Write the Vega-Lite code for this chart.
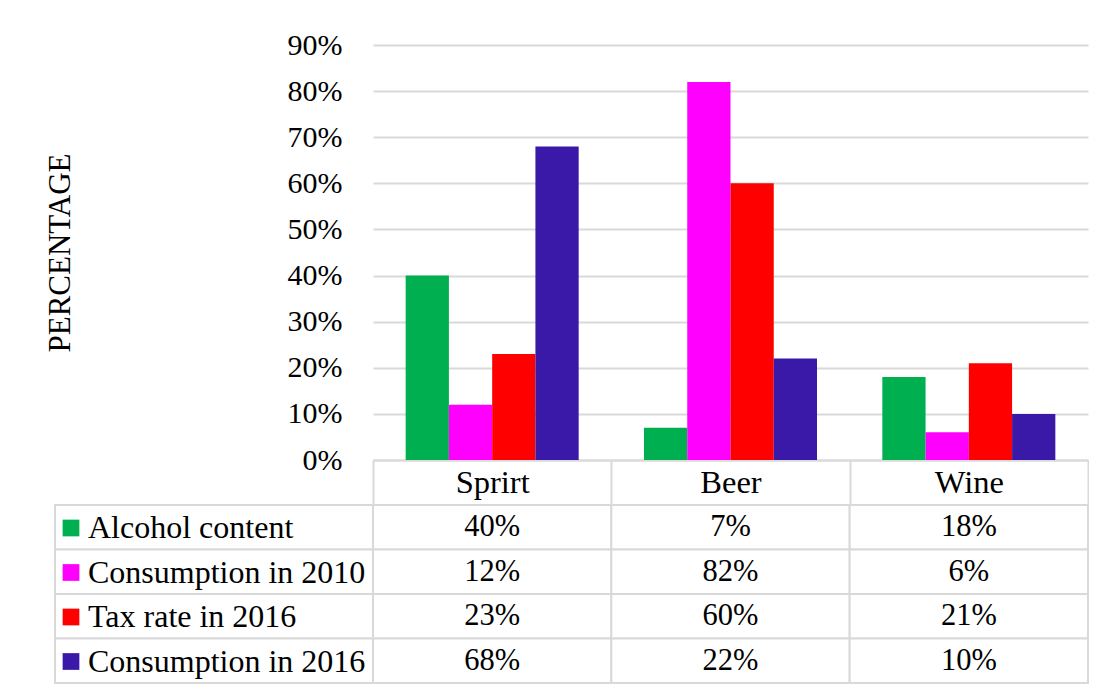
{
  "$schema": "https://vega.github.io/schema/vega-lite/v6.json",
  "padding": {"left": 44, "top": 30, "right": 0, "bottom": 0},
  "background": "white",
  "config": {
    "view": {"stroke": null},
    "font": "Liberation Serif",
    "axis": {"labelFont": "Liberation Serif", "titleFont": "Liberation Serif", "labelColor": "black", "titleColor": "black"},
    "legend": {"labelFont": "Liberation Serif", "labelColor": "black"}
  },
  "datasets": {
    "table": [
      {"drink": "Sprirt", "series": "Alcohol content", "value": 0.40},
      {"drink": "Sprirt", "series": "Consumption in 2010", "value": 0.12},
      {"drink": "Sprirt", "series": "Tax rate in 2016", "value": 0.23},
      {"drink": "Sprirt", "series": "Consumption in 2016", "value": 0.68},
      {"drink": "Beer", "series": "Alcohol content", "value": 0.07},
      {"drink": "Beer", "series": "Consumption in 2010", "value": 0.82},
      {"drink": "Beer", "series": "Tax rate in 2016", "value": 0.60},
      {"drink": "Beer", "series": "Consumption in 2016", "value": 0.22},
      {"drink": "Wine", "series": "Alcohol content", "value": 0.18},
      {"drink": "Wine", "series": "Consumption in 2010", "value": 0.06},
      {"drink": "Wine", "series": "Tax rate in 2016", "value": 0.21},
      {"drink": "Wine", "series": "Consumption in 2016", "value": 0.10}
    ],
    "series": [
      {"series": "Alcohol content"},
      {"series": "Consumption in 2010"},
      {"series": "Tax rate in 2016"},
      {"series": "Consumption in 2016"}
    ]
  },
  "columns": 2,
  "spacing": {"row": 45, "column": 0},
  "bounds": "flush",
  "resolve": {"legend": {"color": "independent"}},
  "concat": [
    {
      "width": 318,
      "height": 415,
      "data": {"values": [{"blank": ""}]},
      "mark": {"type": "text", "text": ""},
      "encoding": {}
    },
    {
      "width": 715,
      "height": 415,
      "data": {"name": "table"},
      "mark": {"type": "bar"},
      "encoding": {
        "x": {
          "field": "drink", "type": "nominal", "sort": ["Sprirt", "Beer", "Wine"],
          "scale": {"paddingInner": 0, "paddingOuter": 0},
          "axis": {
            "title": null, "orient": "bottom", "labelAngle": 0,
            "ticks": true, "tickBand": "extent", "tickSize": 45, "tickColor": "#d9d9d9", "tickWidth": 2,
            "domain": true, "domainColor": "#d9d9d9", "domainWidth": 2,
            "labelBaseline": "middle", "labelPadding": -22.5, "labelFontSize": 32.5
          }
        },
        "xOffset": {
          "field": "series", "type": "nominal",
          "sort": ["Alcohol content", "Consumption in 2010", "Tax rate in 2016", "Consumption in 2016"],
          "scale": {"paddingInner": 0, "paddingOuter": 0.755}
        },
        "y": {
          "field": "value", "type": "quantitative",
          "scale": {"domain": [0, 0.9], "nice": false},
          "axis": {
            "format": ".0%", "values": [0, 0.1, 0.2, 0.3, 0.4, 0.5, 0.6, 0.7, 0.8, 0.9],
            "grid": true, "gridColor": "#d9d9d9", "gridWidth": 2,
            "domain": false, "ticks": false, "labelPadding": 31, "labelFontSize": 30,
            "title": "PERCENTAGE", "titleFontWeight": "normal", "titleFontSize": 31, "titlePadding": 211
          }
        },
        "color": {
          "field": "series", "type": "nominal",
          "scale": {
            "domain": ["Alcohol content", "Consumption in 2010", "Tax rate in 2016", "Consumption in 2016"],
            "range": ["#00B050", "#FF00FF", "#FF0000", "#3A19A8"]
          },
          "legend": null
        }
      }
    },
    {
      "width": 318,
      "height": 178,
      "data": {"name": "series"},
      "layer": [
        {
          "mark": {"type": "rect", "fill": "white", "stroke": "#d9d9d9", "strokeWidth": 2},
          "encoding": {
            "y": {
              "field": "series", "type": "nominal",
              "sort": ["Alcohol content", "Consumption in 2010", "Tax rate in 2016", "Consumption in 2016"],
              "scale": {"paddingInner": 0, "paddingOuter": 0},
              "axis": null
            }
          }
        },
        {
          "mark": {"type": "point", "filled": true, "shape": "square", "size": 0},
          "encoding": {
            "color": {
              "field": "series", "type": "nominal",
              "legend": {
                "orient": "top-left", "offset": 7, "padding": 0, "title": null,
                "labelFontSize": 32, "labelLimit": 500, "labelOffset": 1,
                "rowPadding": 12.5, "symbolType": "square", "symbolSize": 280,
                "symbolOffset": -7, "symbolStrokeWidth": 0, "symbolOpacity": 1
              }
            }
          }
        }
      ]
    },
    {
      "width": 715,
      "height": 178,
      "data": {"name": "table"},
      "encoding": {
        "x": {
          "field": "drink", "type": "nominal", "sort": ["Sprirt", "Beer", "Wine"],
          "scale": {"paddingInner": 0, "paddingOuter": 0}, "axis": null
        },
        "y": {
          "field": "series", "type": "nominal",
          "sort": ["Alcohol content", "Consumption in 2010", "Tax rate in 2016", "Consumption in 2016"],
          "scale": {"paddingInner": 0, "paddingOuter": 0}, "axis": null
        }
      },
      "layer": [
        {"mark": {"type": "rect", "fill": "white", "stroke": "#d9d9d9", "strokeWidth": 2}},
        {
          "mark": {"type": "text", "fontSize": 30.5, "color": "black", "font": "Liberation Serif"},
          "encoding": {"text": {"field": "value", "type": "quantitative", "format": ".0%"}}
        }
      ]
    }
  ]
}
